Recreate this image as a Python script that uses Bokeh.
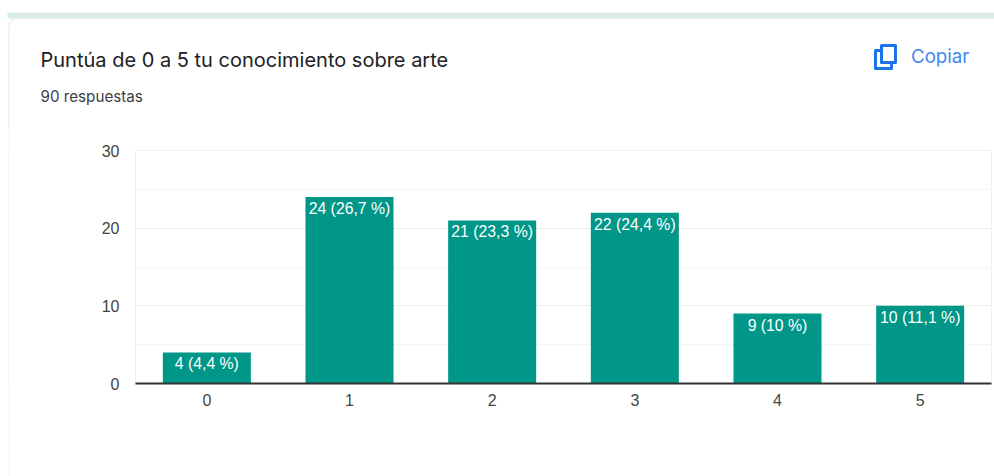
from math import pi
from bokeh.plotting import figure
from bokeh.layouts import column, row
from bokeh.models import ColumnDataSource, Label, LabelSet, FixedTicker, Spacer
from bokeh.core.properties import value
from bokeh.embed import file_html
from bokeh.resources import INLINE

categories = ["0", "1", "2", "3", "4", "5"]
counts = [4, 24, 21, 22, 9, 10]
bar_labels = ["4 (4,4 %)", "24 (26,7 %)", "21 (23,3 %)", "22 (24,4 %)", "9 (10 %)", "10 (11,1 %)"]
major_ticks = [0, 10, 20, 30]
minor_ticks = [5, 15, 25]
title_text = "Puntúa de 0 a 5 tu conocimiento sobre arte"
subtitle_text = "90 respuestas"
copy_text = "Copiar"

W, H = 994, 476
HEAD = 130   # header strip height
EDGE = 8     # x of the card's left edge
BORDER = "#e6e8e8"


def blank(width, height, x_end, y_range, fill="white"):
    f = figure(x_range=(0, x_end), y_range=y_range, width=width, height=height,
               output_backend="svg", toolbar_location=None, tools="",
               x_axis_type=None, y_axis_type=None,
               min_border=0, min_border_left=0, min_border_right=0, min_border_top=0, min_border_bottom=0,
               outline_line_color=None, background_fill_color=fill, border_fill_color=fill)
    f.grid.visible = False
    return f


# header: page chrome, drawn in the picture's own pixels
head = blank(W, HEAD, W, (HEAD, 0))
head.quad(left=[7], right=[W], top=[12], bottom=[18], fill_color="#d9ecea", line_color=None)
head.line(x=[8.5, 8.5], y=[26, HEAD], line_color=BORDER, line_width=1)
head.arc(x=[16.5], y=[26], radius=8, start_angle=pi / 2, end_angle=pi, line_color=BORDER, line_width=1)
head.quad(left=[875], right=[891], top=[50], bottom=[68], fill_color="white", line_color="#1a73e8", line_width=3, line_join="round")
head.quad(left=[881], right=[895], top=[45], bottom=[62], fill_color="white", line_color="#1a73e8", line_width=3, line_join="round")


def text(s, x, y, **kw):
    head.add_layout(Label(x=x, y=y, text=s, text_baseline="middle", **kw))


text(title_text, 40, 59.5, text_font="Inter", text_font_size="20px", text_color="#202124")
text(subtitle_text, 40, 95.5, text_font="Inter", text_font_size="15.2px", text_color="#3c4043")
text(copy_text, 910.5, 56, text_font="Inter", text_font_size="18.7px", text_color="#4285f4")

# the card's left edge below the header
edge = blank(1, H - HEAD, 1, (0, 1), fill=BORDER)

# chart
p = figure(x_range=categories, y_range=(0, 30), width=W - EDGE - 1, height=H - HEAD,
           output_backend="svg", toolbar_location=None, tools="",
           min_border_left=135 - EDGE - 1, min_border_right=3, min_border_top=150 - HEAD, min_border_bottom=93,
           outline_line_color="#f0f0f0", background_fill_color="white", border_fill_color="white")

src = ColumnDataSource(dict(cat=categories, count=counts, label=bar_labels))

ticker = FixedTicker(ticks=major_ticks, minor_ticks=minor_ticks)
p.xgrid.visible = False
p.yaxis.ticker = ticker
p.ygrid.ticker = ticker
p.ygrid.grid_line_color = "#ececec"
p.ygrid.minor_grid_line_color = "#f5f5f5"

p.vbar(x="cat", top="count", width=0.617, bottom=0, source=src, fill_color="#009688", line_color=None)
p.add_layout(LabelSet(x="cat", y="count", text="label", source=src, text_color="white",
                      text_font=value("Liberation Sans"), text_font_size="15.8px",
                      text_align="center", text_baseline="top", y_offset=-3))

for ax in (p.xaxis[0], p.yaxis[0]):
    ax.major_tick_line_color = None
    ax.minor_tick_line_color = None
    ax.major_label_text_font = "Liberation Sans"
    ax.major_label_text_color = "#444444"
    ax.major_label_text_font_size = "16px"
ax = p.yaxis[0]
ax.axis_line_color = None
ax.major_label_standoff = 10
ax = p.xaxis[0]
ax.axis_line_color = "#333333"
ax.axis_line_width = 2
ax.major_label_standoff = 4

page = column(head, row(Spacer(width=EDGE, height=H - HEAD), edge, p, spacing=0), spacing=0)
open("out.html", "w").write(file_html(page, INLINE))
